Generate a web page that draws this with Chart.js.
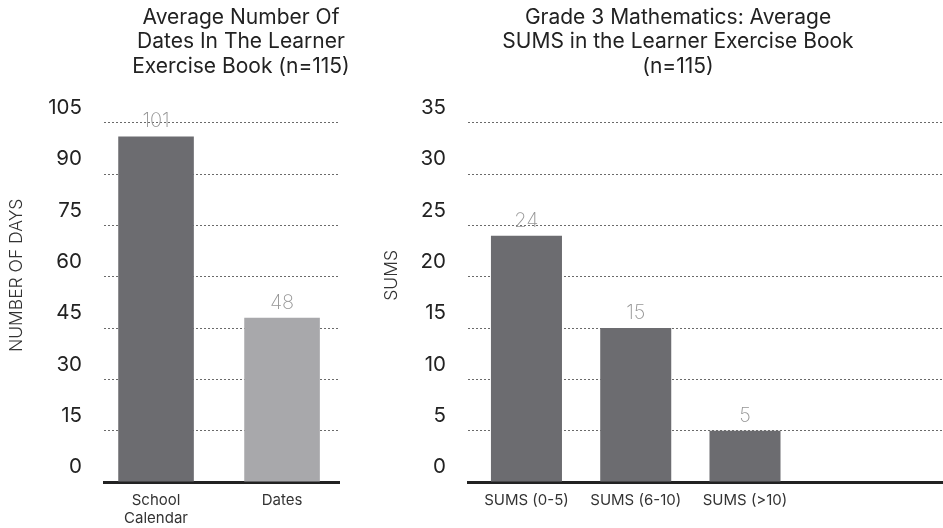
<!DOCTYPE html>
<html>
<head>
<meta charset="utf-8">
<script src="https://cdn.jsdelivr.net/npm/chart.js@4.4.1/dist/chart.umd.min.js"></script>
<style>
  html, body { margin: 0; padding: 0; background: #fff; }
  #wrap { position: relative; width: 943px; height: 528px; overflow: hidden; }
  #left  { position: absolute; left: 0;     top: 0; }
  #right { position: absolute; left: 370px; top: 0; }
</style>
</head>
<body>
<div id="wrap">
  <canvas id="left" width="482" height="528"></canvas>
  <canvas id="right" width="616" height="528"></canvas>
</div>
<script>
// Average number of dated pages per learner exercise book
const datesCategories = [['School', 'Calendar'], 'Dates'];
const datesValues = [101, 48];
const datesColors = ['#6c6c70', '#a8a8ab'];
const datesTicks = [0, 15, 30, 45, 60, 75, 90, 105];

// Grade 3 mathematics: average sums per book, by band
const sumsCategories = ['SUMS (0-5)', 'SUMS (6-10)', 'SUMS (>10)'];
const sumsValues = [24, 15, 5];
const sumsColors = ['#6c6c70', '#6c6c70', '#6c6c70'];
const sumsTicks = [0, 5, 10, 15, 20, 25, 30, 35];

const FONT = 'Inter, "Noto Sans", sans-serif';
Chart.defaults.font.family = FONT;
Chart.defaults.color = '#222';
Chart.defaults.animation = false;

// Writes each bar's value just above it
const valueLabels = {
  id: 'valueLabels',
  afterDatasetsDraw(chart) {
    const ctx = chart.ctx;
    ctx.save();
    ctx.font = '200 20px ' + FONT;
    ctx.fillStyle = '#959595';
    ctx.textAlign = 'center';
    ctx.textBaseline = 'middle';
    chart.data.datasets.forEach((ds, di) => {
      chart.getDatasetMeta(di).data.forEach((bar, i) => {
        ctx.fillText(String(ds.data[i].y), bar.x, bar.y - 15);
      });
    });
    ctx.restore();
  }
};

// Rotated caption for the value axis, sitting a little above mid-height
const sideCaption = {
  id: 'sideCaption',
  afterDraw(chart, args, opts) {
    if (!opts || !opts.text) return;
    const { ctx, chartArea } = chart;
    ctx.save();
    ctx.font = '300 17.5px ' + FONT;
    ctx.fillStyle = '#333';
    ctx.textAlign = 'center';
    ctx.textBaseline = 'middle';
    ctx.translate(opts.x, (chartArea.top + chartArea.bottom) / 2 + opts.shift);
    ctx.rotate(-Math.PI / 2);
    ctx.fillText(opts.text, 0, 0);
    ctx.restore();
  }
};

function buildChart(canvasId, cfg) {
  const labels = cfg.categories;
  return new Chart(document.getElementById(canvasId), {
    type: 'bar',
    data: {
      datasets: [{
        data: cfg.values.map((v, i) => ({ x: i, y: v })),
        backgroundColor: cfg.colors,
        borderWidth: 0,
        categoryPercentage: 1,
        barPercentage: cfg.barPct
      }]
    },
    options: {
      responsive: false,
      layout: { padding: 0 },
      plugins: {
        legend: { display: false },
        tooltip: { enabled: false },
        title: {
          display: true,
          text: cfg.title,
          color: '#222',
          font: { size: 21, weight: '400', lineHeight: 1.17 },
          padding: { top: 5, bottom: 44 }
        },
        sideCaption: { text: cfg.yTitle, x: cfg.yTitleX, shift: -27 }
      },
      scales: {
        x: {
          type: 'linear',
          offset: false,
          min: cfg.xMin,
          max: cfg.xMax,
          grid: { display: false },
          border: { display: true, color: '#222', width: 3 },
          ticks: {
            stepSize: 1,
            includeBounds: false,
            autoSkip: false,
            maxRotation: 0,
            padding: 1,
            color: '#333',
            font: { size: 15, weight: '400', lineHeight: 1.2 },
            callback: (v) => (Number.isInteger(v) && labels[v] !== undefined ? labels[v] : '')
          },
          afterFit: (s) => { s.height = 46; }
        },
        y: {
          min: cfg.yTicks[0],
          max: cfg.yTicks[cfg.yTicks.length - 1],
          grid: { color: '#6a6a6a', lineWidth: 1, drawTicks: false },
          border: { display: false, dash: [2, 2] },
          ticks: {
            stepSize: cfg.yTicks[1] - cfg.yTicks[0],
            padding: 22,
            labelOffset: -15,
            color: '#222',
            font: { size: 20.5, weight: '400' }
          },
          afterFit: (s) => { s.width = cfg.yWidth; }
        },
        spacer: {
          axis: 'y',
          position: 'right',
          display: true,
          grid: { display: false },
          border: { display: false },
          ticks: { display: false },
          afterFit: (s) => { s.width = cfg.rightGap; }
        }
      }
    },
    plugins: [valueLabels, sideCaption]
  });
}

buildChart('left', {
  title: ['Average Number Of', 'Dates In The Learner', 'Exercise Book (n=115)'],
  categories: datesCategories,
  values: datesValues,
  colors: datesColors,
  yTicks: datesTicks,
  yTitle: 'NUMBER OF DAYS',
  yTitleX: 17,
  yWidth: 104,
  rightGap: 143,
  xMin: -0.413,
  xMax: 1.452,
  barPct: 0.6
});

buildChart('right', {
  title: ['Grade 3 Mathematics: Average', 'SUMS in the Learner Exercise Book', '(n=115)'],
  categories: sumsCategories,
  values: sumsValues,
  colors: sumsColors,
  yTicks: sumsTicks,
  yTitle: 'SUMS',
  yTitleX: 22,
  yWidth: 98,
  rightGap: 43,
  xMin: -0.535,
  xMax: 3.812,
  barPct: 0.65
});
</script>
</body>
</html>
